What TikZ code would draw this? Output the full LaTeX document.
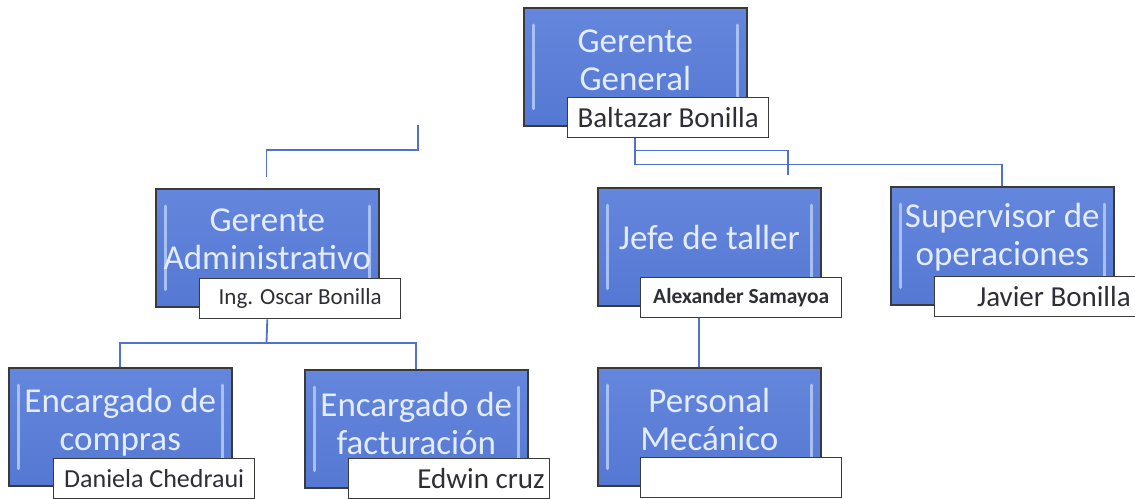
\documentclass[tikz,border=0pt]{standalone}
\usepackage{fontspec}
\setmainfont{Carlito}
\usetikzlibrary{calc}
\definecolor{boxtop}{HTML}{6486DC}
\definecolor{boxbot}{HTML}{5578D3}
\definecolor{bevel}{HTML}{A9C0F3}
\definecolor{edgegray}{HTML}{3A3A3A}
\definecolor{titletext}{HTML}{E4ECFF}
\definecolor{nametext}{HTML}{2E2E36}
\definecolor{linkblue}{HTML}{5072CF}
\tikzset{
  x=1pt, y=-1pt,
  posbox/.style={anchor=north west, draw=edgegray, line width=1.6pt, top color=boxtop, bottom color=boxbot,
    minimum width=223pt, minimum height=118pt, inner sep=0pt},
  titletxt/.style={text=titletext, font=\fontsize{35}{38}\selectfont, align=flush center, inner sep=0pt},
  namebox/.style={anchor=north west, draw=edgegray, line width=1.4pt, fill=white,
    minimum width=201pt, minimum height=40pt, text width=191pt, inner sep=4pt, align=flush center,
    text=nametext},
  link/.style={draw=linkblue, line width=1.8pt},
  bevelline/.style={draw=bevel, line width=3pt, line cap=round}
}
\newcommand{\bevels}[1]{%
  \draw[bevelline] ([xshift=10pt,yshift=-18pt]#1.north west) -- ([xshift=10pt,yshift=18pt]#1.south west);
  \draw[bevelline] ([xshift=-10pt,yshift=-18pt]#1.north east) -- ([xshift=-10pt,yshift=18pt]#1.south east);
}
\begin{document}
\begin{tikzpicture}
\useasboundingbox (0,0) rectangle (1135,498);

% boxes
\node[posbox] (gg) at (523,7) {};
\node[posbox] (ga) at (155,188) {};
\node[posbox] (jt) at (597,187) {};
\node[posbox] (so) at (890,186) {};
\node[posbox] (ec) at (8,367) {};
\node[posbox] (ef) at (304,369) {};
\node[posbox] (pm) at (597,367) {};
\bevels{gg}\bevels{ga}\bevels{jt}\bevels{so}\bevels{ec}\bevels{ef}\bevels{pm}

% titles
\node[titletxt] (ggt) at ([yshift=7pt]gg.center) {Gerente\\General};
\node[titletxt] (gat) at ([yshift=9pt]ga.center) {Gerente\\Administrativo};
\node[titletxt] (jtt) at ([yshift=9pt]jt.center) {Jefe de taller};
\node[titletxt] (sot) at ([yshift=9pt]so.center) {Supervisor de\\operaciones};
\node[titletxt] (ect) at ([yshift=5pt]ec.center) {Encargado de\\compras};
\node[titletxt] (eft) at ([yshift=5pt]ef.center) {Encargado de\\facturación};
\node[titletxt] (pmt) at ([yshift=7pt]pm.center) {Personal\\Mecánico};

% name boxes
\node[namebox, font=\fontsize{29}{32}\selectfont] (ggn) at (567,97) {Baltazar Bonilla};
\node[namebox, font=\fontsize{23}{26}\selectfont] (gan) at (199,278) {Ing. Oscar Bonilla};
\node[namebox, font=\fontsize{21.5}{24}\selectfont\bfseries] (jtn) at (640,277) {Alexander Samayoa};
\node[namebox, font=\fontsize{29}{32}\selectfont, align=flush right] (son) at (934,276) {Javier Bonilla};
\node[namebox, font=\fontsize{26}{29}\selectfont] (ecn) at (53,458) {Daniela Chedraui};
\node[namebox, font=\fontsize{29}{32}\selectfont, align=flush right] (efn) at (348,458) {Edwin cruz};
\node[namebox] (pmn) at (640,457) {};

% connectors
\coordinate (ggout) at (gg.center |- ggn.south);
\coordinate (jtend) at ([xshift=191pt,yshift=12pt]jt.north west);
\draw[link] (ggout) -- ++(0,12) -| (jtend);
\draw[link] (ggout) -- ++(0,26) -| (so.north);

\coordinate (stray1) at (418,125);
\coordinate (stray2) at (266.5,177);
\draw[link] (stray1) -- (418,150) -| (stray2);

\coordinate (admbar) at (266.5,343);
\draw[link] (ga.center |- gan.south) -- (admbar);
\draw[link] (ec.north) |- (admbar) -| (ef.north);

\coordinate (pmin) at ([xshift=102pt]pm.north west);
\draw[link] (pmin) -- (pmin |- jtn.south);
\end{tikzpicture}
\end{document}
